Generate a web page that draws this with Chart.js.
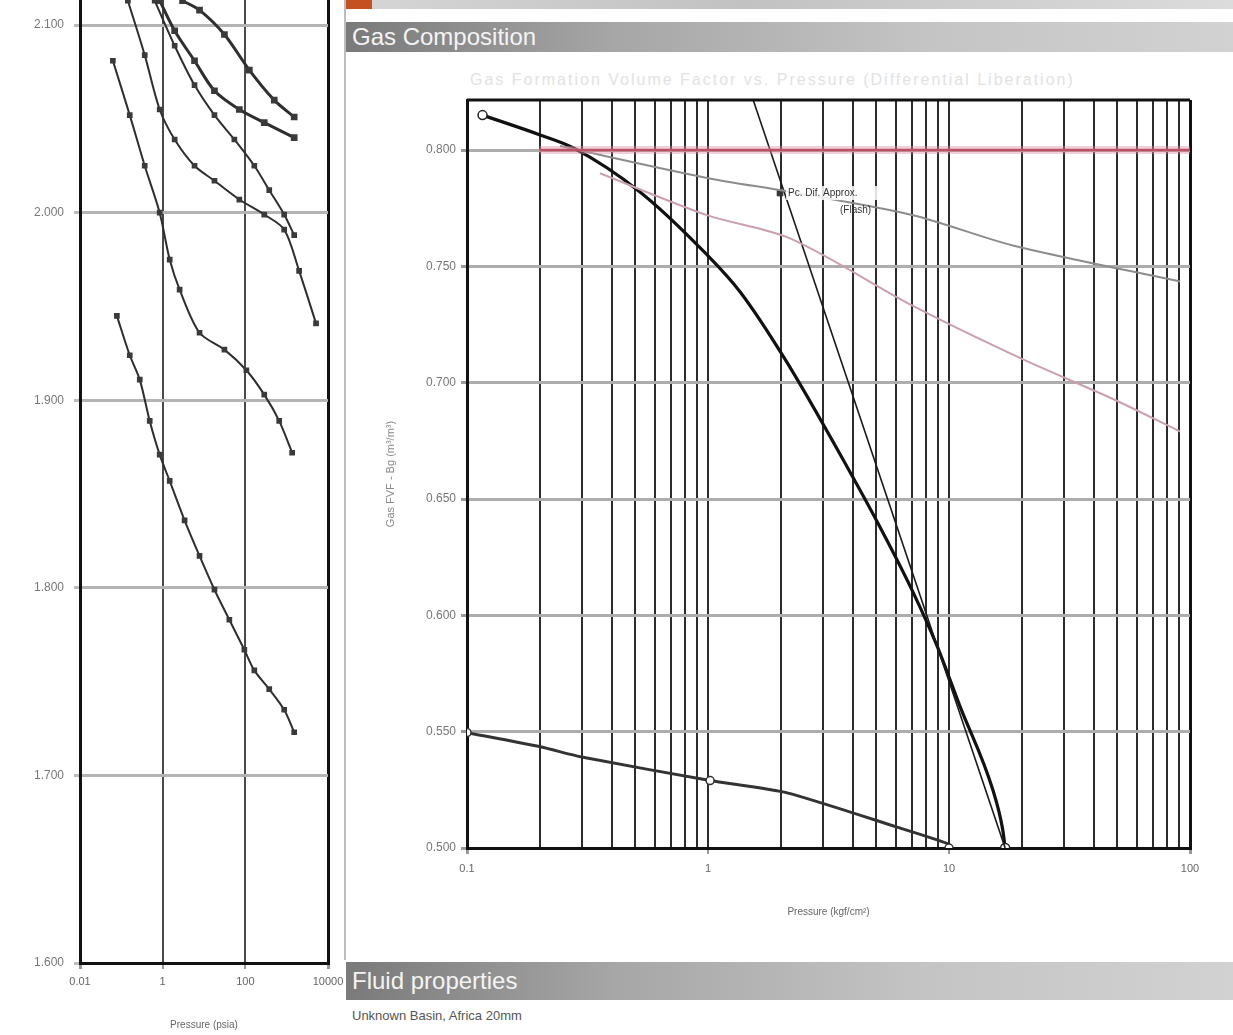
<!DOCTYPE html>
<html>
<head>
<meta charset="utf-8">
<script src="https://cdn.jsdelivr.net/npm/chart.js@4.4.1/dist/chart.umd.min.js"></script>
<style>
  html, body { margin: 0; padding: 0; background: #fff; }
  body { width: 1233px; height: 1035px; position: relative; overflow: hidden; font-family: "Liberation Sans", Arial, sans-serif; }
  #leftCanvas { position: absolute; left: 0; top: -60px; }
  #rightCanvas { position: absolute; left: 350px; top: 55px; }
  .divider { position: absolute; left: 344px; top: 0; width: 2px; height: 960px; background: #bdbdbd; }
  .topstrip { position: absolute; left: 346px; top: 0; width: 887px; height: 9px; background: linear-gradient(90deg, #d6d6d6, #c2c2c2 45%, #dcdcdc); }
  .topstrip .icon { position: absolute; left: 0; top: 0; width: 26px; height: 9px; background: #c4511f; }
  .bar { position: absolute; left: 346px; width: 887px; background: linear-gradient(90deg, #7a7a7a 0%, #a6a6a6 30%, #c4c4c4 65%, #d2d2d2 100%);
         color: #f4f4f4; font-family: "Liberation Sans Narrow", "Liberation Sans", sans-serif; font-size: 24px; line-height: 30px; padding-left: 6px; box-sizing: border-box; }
  .faint { position: absolute; left: 470px; top: 71px; font-size: 16px; color: #e2e2e2; letter-spacing: 2px; }
  .note { position: absolute; left: 352px; top: 1008px; font-size: 13px; color: #555; }
</style>
</head>
<body>
<div class="divider"></div>
<div class="topstrip"><div class="icon"></div></div>
<div class="bar" style="top:22px;height:30px;">Gas Composition</div>
<div class="faint">Gas Formation Volume Factor vs. Pressure (Differential Liberation)</div>
<canvas id="leftCanvas" width="345" height="1095"></canvas>
<canvas id="rightCanvas" width="883" height="895"></canvas>
<div class="bar" style="top:962px;height:38px;line-height:38px;">Fluid properties</div>
<div class="note">Unknown Basin, Africa 20mm</div>

<script>
/* ── left panel data ─────────────────────── */
const leftXTicks = [0.01, 1, 100, 10000];
const leftYTicks = [1.6, 1.7, 1.8, 1.9, 2.0, 2.1];

const c1Press = [0.078, 0.16, 0.279, 0.486, 0.847, 1.48, 3.39, 7.8, 17.9, 41, 94.6, 165, 379, 871, 1520];
const c1Val   = [1.945, 1.924, 1.911, 1.889, 1.871, 1.857, 1.836, 1.817, 1.799, 1.783, 1.767, 1.756, 1.746, 1.735, 1.723];
const c2Press = [0.0624, 0.16, 0.368, 0.847, 1.48, 2.57, 7.8, 31.2, 106, 287, 659, 1358];
const c2Val   = [2.081, 2.052, 2.025, 2.000, 1.975, 1.959, 1.936, 1.927, 1.916, 1.903, 1.889, 1.872];
const c3Press = [0.144, 0.368, 0.847, 1.95, 5.9, 17.9, 71.6, 287, 871, 2000, 5140];
const c3Val   = [2.113, 2.084, 2.055, 2.039, 2.025, 2.017, 2.007, 1.999, 1.991, 1.969, 1.941];
const c4Press = [0.641, 1.95, 5.9, 17.9, 54.3, 165, 379, 871, 1520];
const c4Val   = [2.113, 2.089, 2.068, 2.052, 2.039, 2.025, 2.012, 1.999, 1.988];
const c5Press = [0.847, 1.95, 5.9, 17.9, 71.6, 287, 1520];
const c5Val   = [2.113, 2.097, 2.081, 2.065, 2.055, 2.048, 2.040];
const c6Press = [3.03, 7.8, 31.2, 125, 500, 1520];
const c6Val   = [2.113, 2.108, 2.095, 2.076, 2.060, 2.051];

/* ── right panel data ────────────────────── */
const rightXTicks = [0.1, 0.2, 0.3, 0.4, 0.5, 0.6, 0.7, 0.8, 0.9,
                     1, 2, 3, 4, 5, 6, 7, 8, 9,
                     10, 20, 30, 40, 50, 60, 70, 80, 90, 100];
const rightYTicks = [0.5, 0.55, 0.6, 0.65, 0.7, 0.75, 0.8];

const bgPress    = [0.116, 0.201, 0.275, 0.522, 0.99, 1.36, 2.09, 3.77, 5.17, 7.09, 8.91, 11.1, 15.2, 16.7, 17.1];
const bgVal      = [0.815, 0.8065, 0.801, 0.782, 0.755, 0.739, 0.710, 0.664, 0.638, 0.610, 0.587, 0.561, 0.525, 0.508, 0.500];
const trendPress = [1.54, 17.1];
const trendVal   = [0.8215, 0.500];
const lowPress   = [0.1, 0.201, 0.303, 1.02, 2.13, 6.08, 9.8, 10];
const lowVal     = [0.5496, 0.5435, 0.539, 0.529, 0.5237, 0.509, 0.502, 0.500];
const difPress   = [0.243, 0.99, 2.19, 7.09, 18.4, 91];
const difVal     = [0.8017, 0.788, 0.782, 0.772, 0.759, 0.7435];
const flashPress = [0.356, 0.99, 2.19, 7.09, 20.3, 47.9, 91];
const flashVal   = [0.790, 0.772, 0.762, 0.733, 0.710, 0.693, 0.679];
const limitPress = [0.2, 100];
const limitVal   = [0.800, 0.800];
const notePress  = [1.99];
const noteVal    = [0.7815];

const pts = (xs, ys) => xs.map((x, i) => ({ x, y: ys[i] }));
const isDecade = v => Math.abs(Math.log10(v) - Math.round(Math.log10(v))) < 1e-9;
const tickFont = { family: 'Liberation Sans', size: 12 };

/* labels may hang past the plot edge, like the scan */
function noSidePad(s) { s.paddingLeft = 0; s.paddingRight = 0; }

/* ── left chart ──────────────────────────── */
function leftSet(xs, ys, width) {
  return {
    data: pts(xs, ys), borderColor: '#2e2e2e', borderWidth: width,
    pointRadius: 2.6, pointBackgroundColor: '#3a3a3a', pointBorderColor: '#3a3a3a',
    pointStyle: 'rect', tension: 0.3, fill: false
  };
}

new Chart(document.getElementById('leftCanvas'), {
  type: 'line',
  data: {
    datasets: [
      leftSet(c1Press, c1Val, 2), leftSet(c2Press, c2Val, 2), leftSet(c3Press, c3Val, 2),
      leftSet(c4Press, c4Val, 2), leftSet(c5Press, c5Val, 3), leftSet(c6Press, c6Val, 3)
    ]
  },
  options: {
    responsive: false, animation: false,
    layout: { padding: { top: 20, right: 17, left: 0, bottom: 0 } },
    plugins: { legend: { display: false }, tooltip: { enabled: false } },
    scales: {
      x: {
        type: 'logarithmic', min: 0.01, max: 10000,
        afterBuildTicks: ax => { ax.ticks = leftXTicks.map(v => ({ value: v })); },
        afterFit: s => { s.height = 72; noSidePad(s); },
        ticks: { autoSkip: false, maxRotation: 0, color: '#666', font: { family: 'Liberation Sans', size: 11 }, padding: 6, callback: v => String(v) },
        grid: {
          color: c => (c.tick && (c.tick.value === 0.01 || c.tick.value === 10000)) ? '#111' : '#4a4a4a',
          lineWidth: c => (c.tick && (c.tick.value === 0.01 || c.tick.value === 10000)) ? 3 : 2,
          tickLength: 6, tickColor: '#999'
        },
        border: { color: '#111', width: 3 },
        title: { display: true, text: 'Pressure (psia)', color: '#666', font: { family: 'Liberation Sans', size: 10 }, padding: { top: 18 } }
      },
      y: {
        min: 1.6, max: 2.1347,
        afterBuildTicks: ax => { ax.ticks = leftYTicks.map(v => ({ value: v })); },
        afterFit: s => { s.width = 80; },
        ticks: { color: '#777', font: tickFont, padding: 10, callback: v => v.toFixed(3) },
        grid: { color: c => (c.tick && c.tick.value === 1.6) ? '#111' : '#b4b4b4', lineWidth: 3, tickLength: 6, tickColor: '#bbb' },
        border: { color: '#111', width: 3 }
      }
    }
  }
});

/* ── right chart ─────────────────────────── */
const framePlugin = {
  id: 'frame',
  afterDraw(chart) {
    const { ctx, chartArea: a } = chart;
    ctx.save();
    ctx.strokeStyle = '#111';
    ctx.lineWidth = 3;
    ctx.beginPath();
    ctx.moveTo(a.left, a.top);
    ctx.lineTo(a.right, a.top);
    ctx.stroke();
    ctx.restore();
  }
};

const notePlugin = {
  id: 'noteText',
  afterDatasetsDraw(chart) {
    const { ctx, scales } = chart;
    const px = scales.x.getPixelForValue(notePress[0]);
    const py = scales.y.getPixelForValue(noteVal[0]);
    ctx.save();
    ctx.fillStyle = 'rgba(255,255,255,0.85)';
    ctx.fillRect(px + 6, py - 7, 92, 14);
    ctx.fillStyle = '#333';
    ctx.font = '10px "Liberation Sans"';
    ctx.textBaseline = 'middle';
    ctx.fillText('Pc. Dif. Approx.', px + 8, py);
    ctx.fillText('(Flash)', px + 60, py + 17);
    ctx.restore();
  }
};

new Chart(document.getElementById('rightCanvas'), {
  type: 'line',
  data: {
    datasets: [
      { data: pts(limitPress, limitVal), borderColor: 'rgba(220,140,160,0.4)', borderWidth: 8, pointRadius: 0 },
      { data: pts(limitPress, limitVal), borderColor: '#a8283e', borderWidth: 2.5, pointRadius: 0 },
      { data: pts(flashPress, flashVal), borderColor: '#c9a0ab', borderWidth: 2, pointRadius: 0, tension: 0.3 },
      { data: pts(difPress, difVal), borderColor: '#8c8c8c', borderWidth: 2, pointRadius: 0, tension: 0.3 },
      { data: pts(trendPress, trendVal), borderColor: '#1a1a1a', borderWidth: 1.6, pointRadius: 0, tension: 0 },
      { data: pts(lowPress, lowVal), borderColor: '#333', borderWidth: 3, tension: 0.2,
        pointRadius: c => (c.dataIndex === 0 || c.dataIndex === 3 || c.dataIndex === lowPress.length - 1) ? 4 : 0,
        pointBackgroundColor: '#fff', pointBorderColor: '#333', pointBorderWidth: 1.5 },
      { data: pts(bgPress, bgVal), borderColor: '#111', borderWidth: 3.2, cubicInterpolationMode: 'monotone',
        pointRadius: c => (c.dataIndex === 0 || c.dataIndex === bgPress.length - 1) ? 4.5 : 0,
        pointBackgroundColor: '#fff', pointBorderColor: '#222', pointBorderWidth: 1.5 },
      { data: pts(notePress, noteVal), showLine: false, pointStyle: 'rect', pointRadius: 4,
        pointBackgroundColor: '#333', pointBorderColor: '#333' }
    ]
  },
  options: {
    responsive: false, animation: false,
    layout: { padding: { top: 45, right: 43, left: 30, bottom: 28 } },
    plugins: { legend: { display: false }, tooltip: { enabled: false } },
    scales: {
      x: {
        type: 'logarithmic', min: 0.1, max: 100,
        afterBuildTicks: ax => { ax.ticks = rightXTicks.map(v => ({ value: v })); },
        afterFit: s => { s.height = 74; noSidePad(s); },
        ticks: { autoSkip: false, maxRotation: 0, color: '#666', font: { family: 'Liberation Sans', size: 11 }, padding: 8,
                 callback: v => isDecade(v) ? String(v) : '' },
        grid: {
          color: c => (c.tick && (c.tick.value === 0.1 || c.tick.value === 100)) ? '#111' : '#2c2c2c',
          lineWidth: c => (c.tick && (c.tick.value === 0.1 || c.tick.value === 100)) ? 3 : 2,
          tickLength: 6, tickColor: c => (c.tick && isDecade(c.tick.value)) ? '#999' : 'rgba(0,0,0,0)'
        },
        border: { color: '#111', width: 3 },
        title: { display: true, text: 'Pressure (kgf/cm²)', color: '#666', font: { family: 'Liberation Sans', size: 10 }, padding: { top: 4, bottom: 4 } }
      },
      y: {
        min: 0.5, max: 0.8215,
        afterBuildTicks: ax => { ax.ticks = rightYTicks.map(v => ({ value: v })); },
        afterFit: s => { s.width = 87; },
        ticks: { color: '#777', font: tickFont, padding: 5, callback: v => v.toFixed(3) },
        grid: { color: c => (c.tick && c.tick.value === 0.5) ? '#111' : '#adadad', lineWidth: 3, tickLength: 6, tickColor: '#999' },
        border: { color: '#111', width: 3 },
        title: { display: true, text: 'Gas FVF - Bg (m³/m³)', color: '#888', font: { family: 'Liberation Sans', size: 11 }, padding: { top: 4, bottom: 4 } }
      }
    }
  },
  plugins: [framePlugin, notePlugin]
});
</script>
</body>
</html>
